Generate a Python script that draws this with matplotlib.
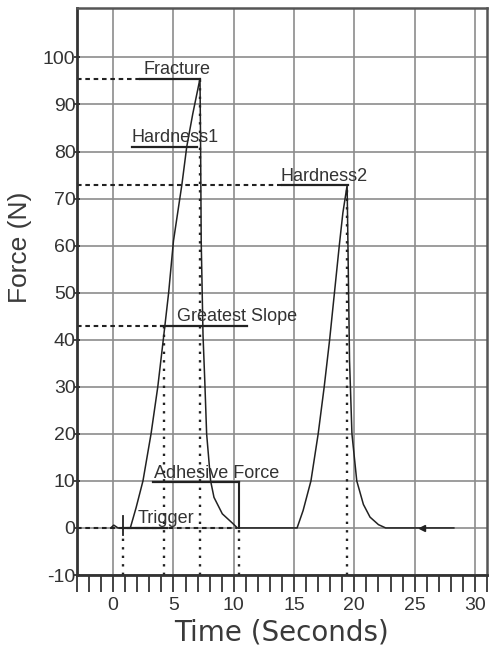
import numpy as np
import matplotlib
matplotlib.use("Agg")
import matplotlib.pyplot as plt
from matplotlib.ticker import MultipleLocator

# 測定曲線 (時間 [s], 力 [N])
time = [-0.2, 0.05, 0.4, 0.8, 1.42, 1.9, 2.47, 3.14, 3.7, 4.2, 4.6, 5.0, 5.7, 6.1,
        6.6, 7.2, 7.25, 7.3, 7.45, 7.6, 7.75, 8.08, 8.36, 9.05, 9.9, 10.3,
        15.25, 15.75, 16.4, 17.0, 17.5, 17.95, 18.35, 18.75, 19.05, 19.4,
        19.6, 19.8, 20.2, 20.75, 21.3, 22.0, 22.6, 28.25]
force = [0, 0.6, 0, 0, 0, 4.3, 10, 20, 30, 41, 50, 61, 73, 81,
         88, 95.5, 81, 61, 41, 31, 20, 10, 6.5, 3, 1, 0,
         0, 3.7, 10, 20, 30, 40, 50, 60, 67, 72.8,
         35.6, 20, 10, 5, 2.3, 0.7, 0, 0]
end_marker_t = 25.6

# ラベルと下線
labels = ["Fracture", "Hardness1", "Greatest Slope", "Adhesive Force", "Trigger", "Hardness2"]
label_y = [95.5, 81, 43, 9.7, 0, 72.8]
line_x0 = [2.25, 1.55, 4.0, 3.3, 0.8, 14.0]
line_x1 = [7.2, 6.95, 11.1, 10.4, 4.5, 19.5]
text_x = [2.5, 1.55, 5.3, 3.35, 2.0, 13.9]

# 左軸からの破線
dash_y = [95.5, 72.8, 43, 0]
dash_x1 = [2.25, 14.0, 4.0, 10.3]

# 下端までの点線
dot_x = [0.8, 4.2, 7.2, 10.4, 19.4]
dot_top = [-1.5, 43, 95.5, 0, 72.8]

xmin, xmax = -3, 31
ymin, ymax = -10, 110.5
ink = "#222222"
txt = "#333333"

plt.rcParams["font.family"] = ["Liberation Sans", "DejaVu Sans"]
plt.rcParams["axes.unicode_minus"] = False

fig = plt.figure(figsize=(5.01, 6.49), dpi=100)
ax = fig.add_axes([77 / 501, 1 - 575 / 649, 410 / 501, 567 / 649])

ax.set_xlim(xmin, xmax)
ax.set_ylim(ymin, ymax)

# グリッド
ax.xaxis.set_major_locator(MultipleLocator(5))
ax.xaxis.set_minor_locator(MultipleLocator(1))
ax.set_xticks(np.arange(0, 31, 5))
ax.set_yticks(np.arange(-10, 101, 10))
ax.grid(which="major", color="#8c8c8c", lw=1.2, zorder=0)

# 破線・点線
for y, x1 in zip(dash_y, dash_x1):
    ax.plot([xmin, x1], [y, y], color=ink, lw=1.5, ls=(0, (2.2, 1.8)), zorder=2)
for x, top in zip(dot_x, dot_top):
    ax.plot([x, x], [ymin, top], color=ink, lw=1.7, ls=(0, (1.0, 2.6)), zorder=2)

# 曲線
ax.plot(time, force, color=ink, lw=1.1, zorder=3)
ax.plot([end_marker_t], [0], marker="<", color=ink, ms=5, zorder=4)

# トリガーの縦線, 付着力の縦線
ax.plot([0.8, 0.8], [-1.5, 2.6], color=ink, lw=1.3, zorder=3)
ax.plot([10.4, 10.4], [0, 9.7], color=ink, lw=1.5, zorder=3)

# ラベル
for name, y, x0, x1, tx in zip(labels, label_y, line_x0, line_x1, text_x):
    ax.plot([x0, x1], [y, y], color=ink, lw=1.6, zorder=3)
    ax.text(tx, y + 1.0, name, fontsize=13, color=txt, ha="left", va="baseline", zorder=5)

# 目盛り
ax.tick_params(axis="x", which="both", direction="out", length=12, width=1.2,
               color=ink, labelsize=14, labelcolor=txt, pad=4)
ax.tick_params(axis="y", which="major", direction="inout", length=5, width=1.2,
               color=ink, labelsize=14, labelcolor=txt, pad=-1.5)
ax.yaxis.set_minor_locator(plt.NullLocator())

for side in ["left", "bottom"]:
    ax.spines[side].set_linewidth(2.0)
    ax.spines[side].set_color("#333333")
for side in ["top", "right"]:
    ax.spines[side].set_linewidth(1.8)
    ax.spines[side].set_color("#555555")

ax.set_xlabel("Time (Seconds)", fontsize=20, color="#3a3a3a", family=["DejaVu Sans"], labelpad=3)
ax.set_ylabel("Force (N)", fontsize=19, color="#3a3a3a")
ax.yaxis.set_label_coords(-0.11, 0.578)

fig.savefig("out.png", dpi=100)
